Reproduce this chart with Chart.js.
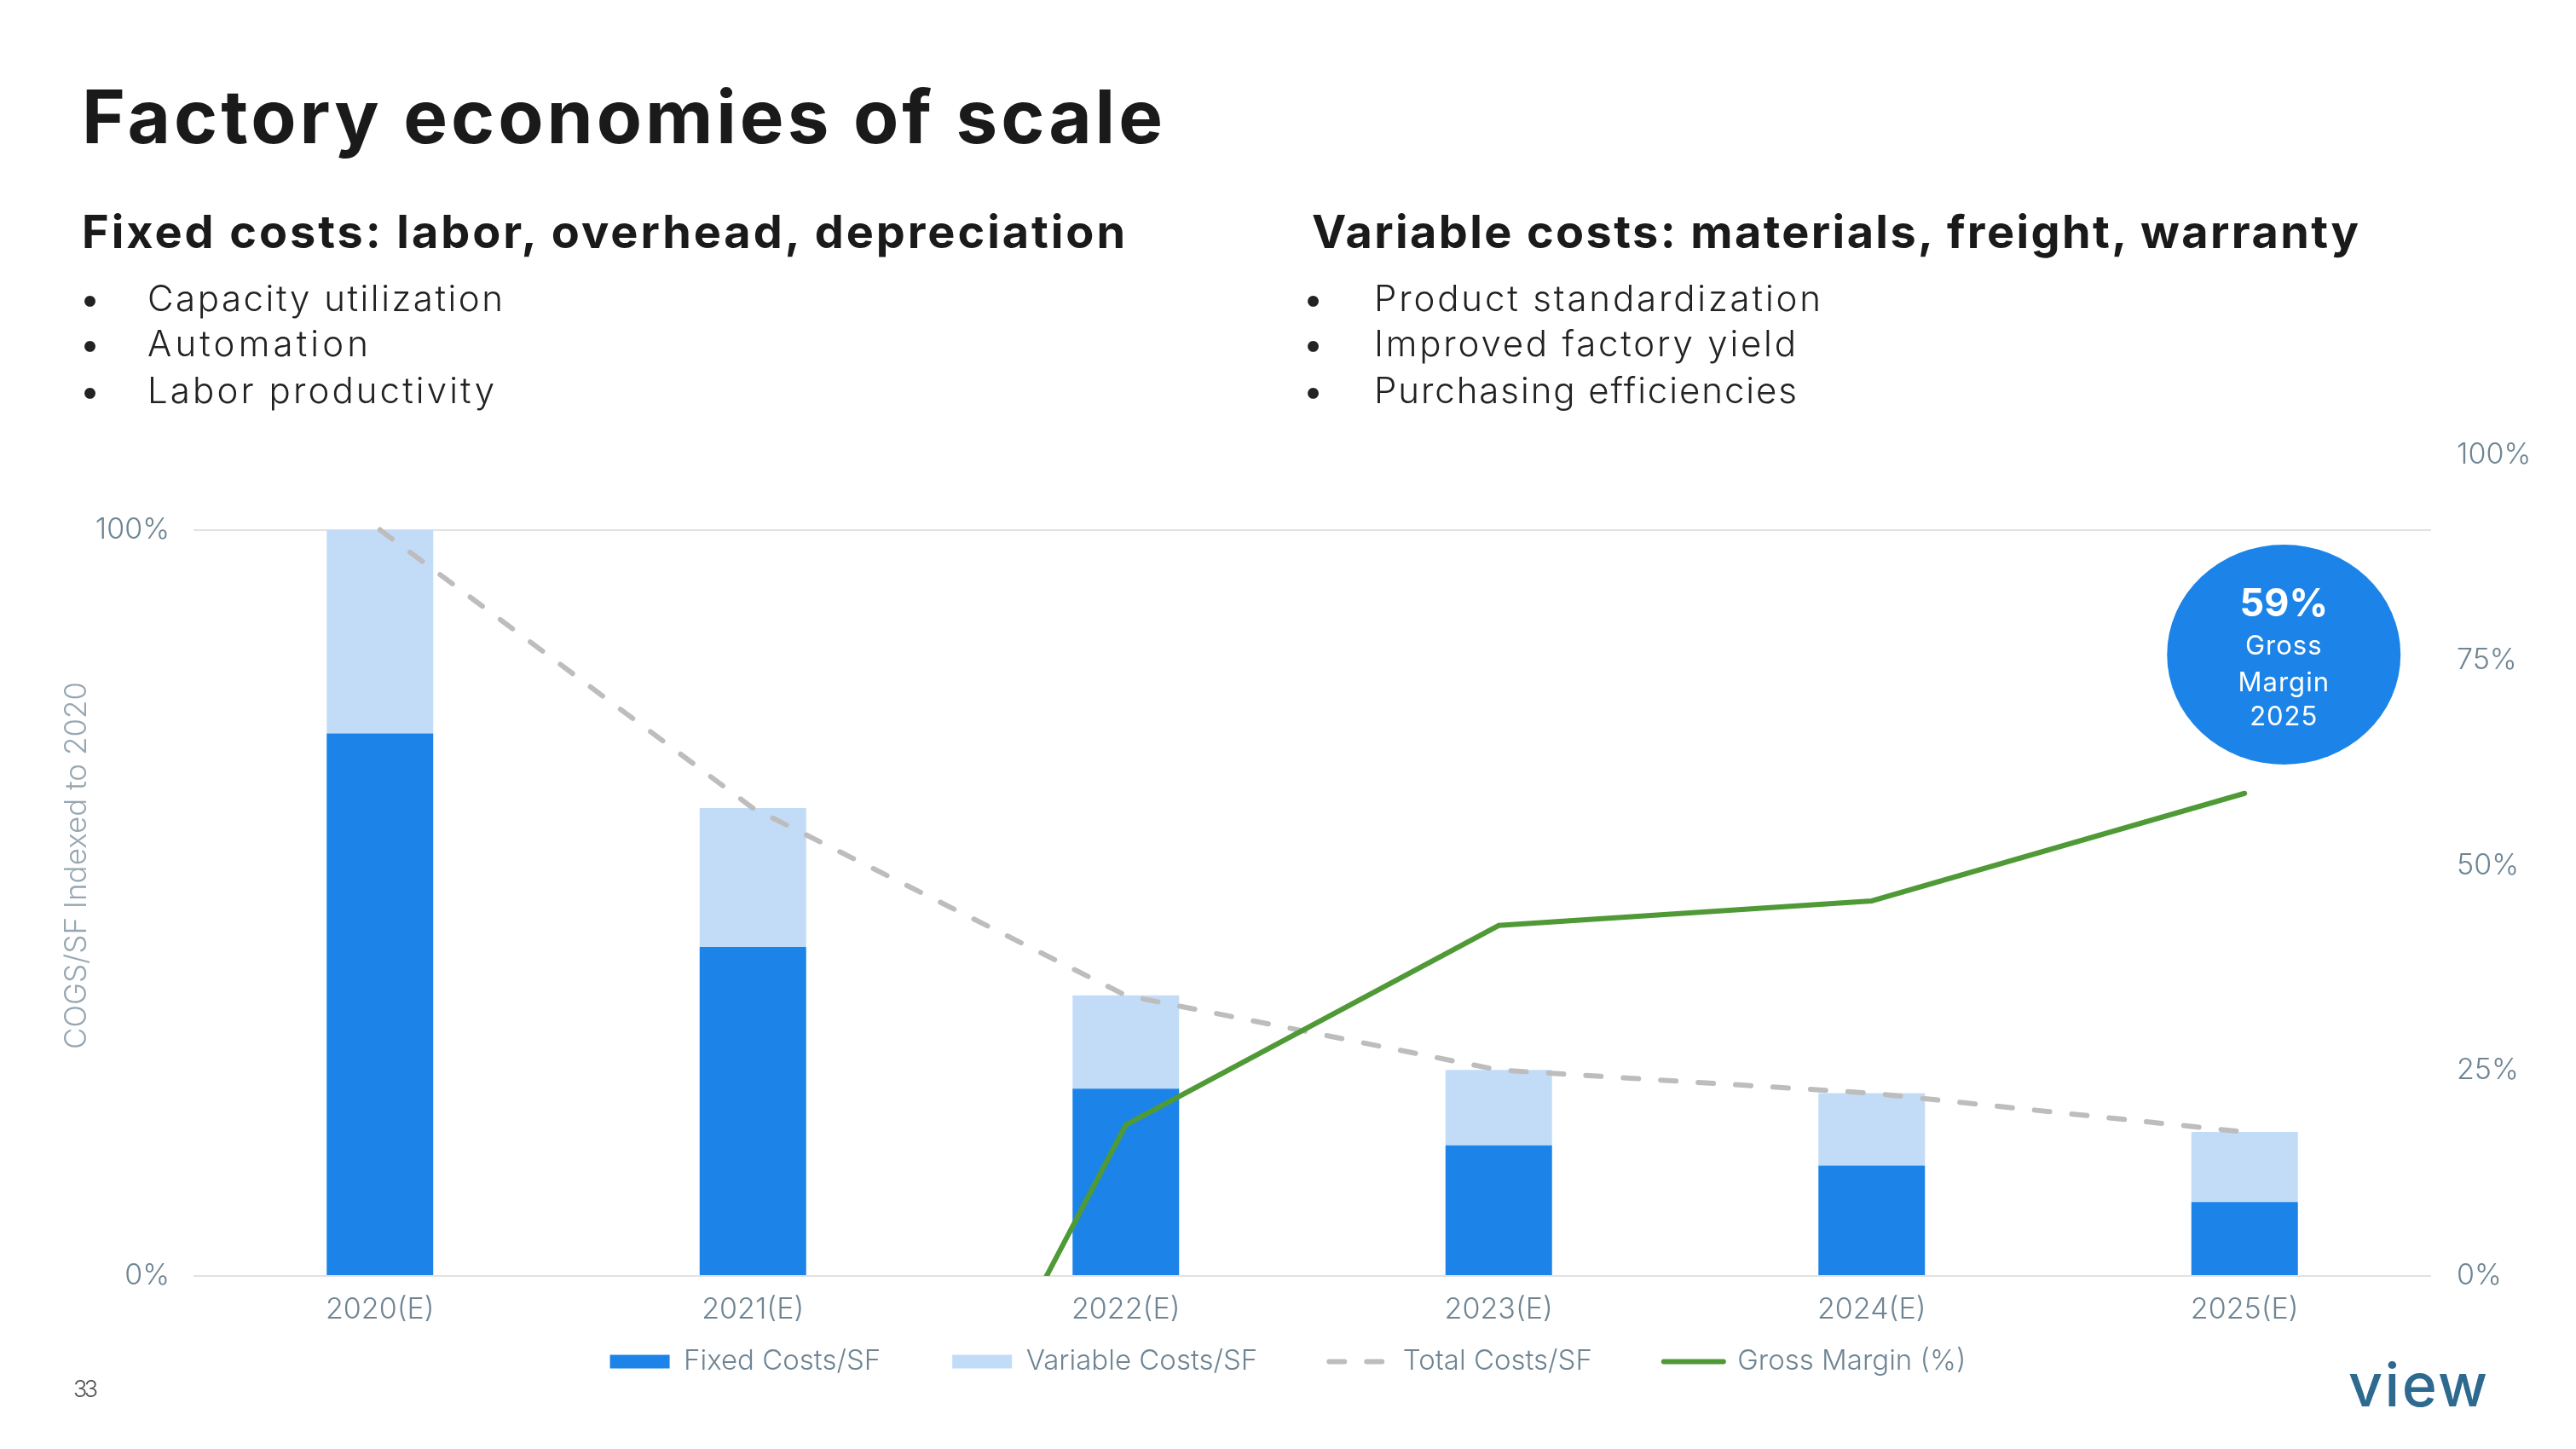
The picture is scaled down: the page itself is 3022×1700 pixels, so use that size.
<!DOCTYPE html>
<html>
<head>
<meta charset="utf-8">
<script src="https://cdn.jsdelivr.net/npm/chart.js@4.4.1/dist/chart.umd.min.js"></script>
<style>
  html, body { margin: 0; padding: 0; background: #ffffff; }
  body { width: 3022px; height: 1700px; position: relative; overflow: hidden; font-family: Inter, "Noto Sans", sans-serif; }
  #chart { position: absolute; left: 0; top: 0; }
  .t { position: absolute; white-space: nowrap; line-height: 1; margin: 0; }
  .title { font-weight: 700; font-size: 87px; color: #1a1a1a; }
  .sub { font-weight: 700; font-size: 54px; color: #1a1a1a; }
  .bul { font-weight: 300; font-size: 42px; color: #222222; }
  .dot { font-weight: 400; font-size: 41px; color: #222222; }
</style>
</head>
<body>
<canvas id="chart" width="3022" height="1700"></canvas>

<div class="t title fit" data-w="1268" style="left:96px; top:93px;">Factory economies of scale</div>

<div class="t sub fit" data-w="1224" style="left:96px; top:245px;">Fixed costs: labor, overhead, depreciation</div>
<div class="t dot" style="left:94px; top:330px;">•</div>
<div class="t bul fit" data-w="417" style="left:173px; top:329px;">Capacity utilization</div>
<div class="t dot" style="left:94px; top:383px;">•</div>
<div class="t bul fit" data-w="259" style="left:173px; top:382px;">Automation</div>
<div class="t dot" style="left:94px; top:438px;">•</div>
<div class="t bul fit" data-w="407" style="left:173px; top:437px;">Labor productivity</div>

<div class="t sub fit" data-w="1228" style="left:1539px; top:245px;">Variable costs: materials, freight, warranty</div>
<div class="t dot" style="left:1529px; top:330px;">•</div>
<div class="t bul fit" data-w="524" style="left:1612px; top:329px;">Product standardization</div>
<div class="t dot" style="left:1529px; top:383px;">•</div>
<div class="t bul fit" data-w="495" style="left:1612px; top:382px;">Improved factory yield</div>
<div class="t dot" style="left:1529px; top:438px;">•</div>
<div class="t bul fit" data-w="496" style="left:1612px; top:437px;">Purchasing efficiencies</div>

<div class="t fit" data-w="29" style="left:86px; top:1616px; font-size:27px; font-weight:300; color:#555555;">33</div>
<div class="t fit" data-w="163" style="left:2755px; top:1590px; font-size:70px; font-weight:500; color:#2e6a8f;">view</div>

<script>
// ---------- data ----------
const categories    = ['2020(E)', '2021(E)', '2022(E)', '2023(E)', '2024(E)', '2025(E)'];
const fixedCosts    = [72.7, 44.1, 25.1, 17.5, 14.8, 9.9];
const variableCosts = [27.3, 18.6, 12.5, 10.1, 9.7, 9.4];
const totalCosts    = [100, 62.7, 37.6, 27.6, 24.5, 19.3];
const grossMargin   = [null, -68.2, 18.4, 42.7, 45.7, 58.8];
const leftTicks     = [0, 100];
const rightTicks    = [0, 25, 50, 75, 100];
const seriesNames   = ['Fixed Costs/SF', 'Variable Costs/SF', 'Total Costs/SF', 'Gross Margin (%)'];
const yAxisTitle    = 'COGS/SF Indexed to 2020';
const bubbleLines   = ['Gross', 'Margin', '2025'];

// ---------- styles ----------
const BLUE = '#1c84e8';
const LIGHT = '#c2dcf8';
const GRAY = '#bdbdbd';
const GREEN = '#4f9a36';
const TICK = '#6f8594';
const FONT = 'Inter, "Noto Sans", sans-serif';

Chart.defaults.font.family = FONT;

const bubblePlugin = {
  id: 'bubble',
  afterDatasetsDraw(chart) {
    const { ctx, scales } = chart;
    const last = categories.length - 1;
    const cx = scales.x.getPixelForValue(last) + 46;
    const cy = scales.y1.getPixelForValue(75.7);
    ctx.save();
    ctx.fillStyle = BLUE;
    ctx.beginPath();
    ctx.ellipse(cx, cy, 137, 129, 0, 0, Math.PI * 2);
    ctx.fill();
    ctx.fillStyle = '#ffffff';
    ctx.textAlign = 'center';
    ctx.textBaseline = 'alphabetic';
    ctx.font = '700 45px ' + FONT;
    ctx.fillText(Math.round(grossMargin[last]) + '%', cx, cy - 45);
    ctx.font = '400 31px ' + FONT;
    try { ctx.letterSpacing = '1px'; } catch (e) {}
    ctx.fillText(bubbleLines[0], cx, cy);
    ctx.fillText(bubbleLines[1], cx, cy + 43);
    ctx.fillText(bubbleLines[2], cx, cy + 83);
    ctx.restore();
  }
};

// legend sits closer to the axis labels than Chart.js' single padding value allows
const legendShift = {
  id: 'legendShift',
  afterLayout(chart) {
    const lg = chart.legend;
    if (lg) { lg.top -= 75; lg.bottom -= 75; }
  }
};

const tickFont = { family: FONT, size: 34, weight: 300 };

new Chart(document.getElementById('chart'), {
  data: {
    labels: categories,
    datasets: [
      { type: 'bar', label: seriesNames[0], data: fixedCosts, backgroundColor: BLUE, borderWidth: 0,
        yAxisID: 'y', stack: 'costs', order: 2, barPercentage: 0.2857, categoryPercentage: 1 },
      { type: 'bar', label: seriesNames[1], data: variableCosts, backgroundColor: LIGHT, borderWidth: 0,
        yAxisID: 'y', stack: 'costs', order: 3, barPercentage: 0.2857, categoryPercentage: 1 },
      { type: 'line', label: seriesNames[2], data: totalCosts, borderColor: GRAY, backgroundColor: GRAY,
        borderWidth: 6, borderDash: [18, 26], borderCapStyle: 'round', pointRadius: 0, fill: false,
        tension: 0, yAxisID: 'y', stack: 'total', order: 1 },
      { type: 'line', label: seriesNames[3], data: grossMargin, borderColor: GREEN, backgroundColor: GREEN,
        borderWidth: 6, borderCapStyle: 'round', borderJoinStyle: 'miter', pointRadius: 0, fill: false,
        tension: 0, yAxisID: 'y1', order: 0, clip: 0 }
    ]
  },
  options: {
    responsive: false,
    animation: false,
    layout: { padding: { top: 534, bottom: 1, left: 0, right: 0 } },
    plugins: {
      tooltip: { enabled: false },
      legend: {
        position: 'bottom',
        labels: {
          usePointStyle: true,
          pointStyleWidth: 70,
          boxHeight: 16,
          padding: 84,
          color: TICK,
          font: { family: FONT, size: 33, weight: 300 },
          sort: (a, b) => a.datasetIndex - b.datasetIndex,
          generateLabels(chart) {
            const items = Chart.defaults.plugins.legend.labels.generateLabels(chart);
            items.forEach(it => {
              const ds = chart.data.datasets[it.datasetIndex];
              if (ds.type === 'line') {
                it.pointStyle = 'line';
                it.strokeStyle = ds.borderColor;
                it.lineWidth = ds.borderWidth;
                it.lineDash = ds.borderDash || [];
                it.lineCap = 'round';
              } else {
                it.pointStyle = 'rect';
                it.fillStyle = ds.backgroundColor;
                it.lineWidth = 0;
              }
            });
            return items;
          }
        }
      }
    },
    scales: {
      x: {
        grid: { display: false, drawTicks: false },
        border: { display: false },
        ticks: { color: TICK, font: tickFont, padding: 19 },
        afterFit: s => { s.height = 75; }
      },
      y: {
        position: 'left',
        stacked: true,
        min: 0,
        max: 110,
        afterBuildTicks: s => { s.ticks = leftTicks.map(v => ({ value: v })); },
        grid: { color: '#e1e1e1', lineWidth: 2, drawTicks: false },
        border: { display: false },
        ticks: { color: TICK, font: tickFont, padding: 28, callback: v => v + '%' },
        title: { display: true, text: yAxisTitle, color: '#97a7b2',
                 font: { family: FONT, size: 35, weight: 300 }, padding: { top: 69, bottom: 0 } },
        afterFit: s => { s.width = 227; }
      },
      y1: {
        position: 'right',
        min: 0,
        max: 100,
        afterBuildTicks: s => { s.ticks = rightTicks.map(v => ({ value: v })); },
        grid: { display: false, drawTicks: false },
        border: { display: false },
        ticks: { color: TICK, font: tickFont, padding: 30, callback: v => v + '%' },
        afterFit: s => { s.width = 170; }
      }
    }
  },
  plugins: [bubblePlugin, legendShift]
});

// fit header text widths to the reference
function fitText() {
  document.querySelectorAll('.fit').forEach(el => {
    el.style.letterSpacing = '0px';
    const target = parseFloat(el.dataset.w);
    const w = el.getBoundingClientRect().width;
    const n = el.textContent.length;
    if (n > 1) el.style.letterSpacing = ((target - w) / (n - 1)) + 'px';
  });
}
fitText();
if (document.fonts && document.fonts.ready) document.fonts.ready.then(fitText);
</script>
</body>
</html>
